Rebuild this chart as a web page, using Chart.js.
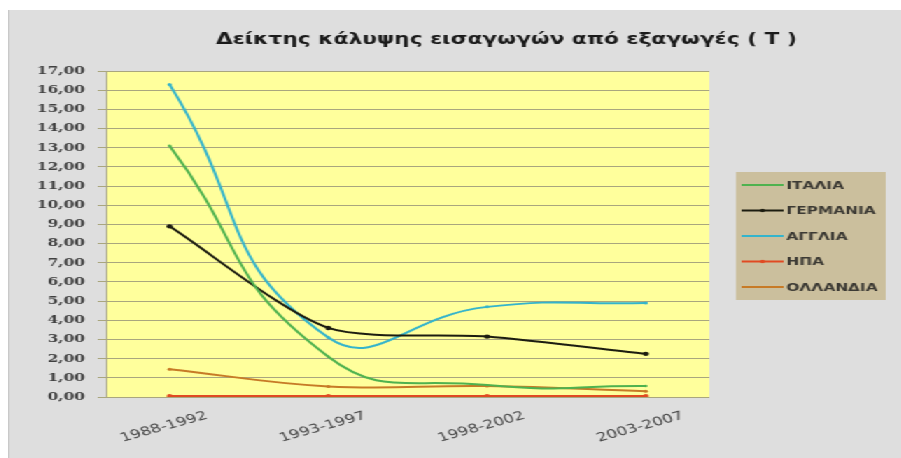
<!DOCTYPE html>
<html>
<head>
<meta charset="utf-8">
<script src="https://cdn.jsdelivr.net/npm/chart.js@4/dist/chart.umd.min.js"></script>
<style>
html, body { margin: 0; padding: 0; background: #fff; width: 901px; height: 458px; overflow: hidden; }
#wrap { position: absolute; left: 8px; top: 10px; width: 638px; height: 448px; background: #dedede;
        transform: scaleX(1.4); transform-origin: 0 0; box-shadow: inset 1px 0 0 #c9c9c9; }
</style>
</head>
<body>
<div id="wrap"><canvas id="chart" width="638" height="448"></canvas></div>
<script>
// Δεδομένα του γραφήματος
const TITLE = 'Δείκτης κάλυψης εισαγωγών από εξαγωγές ( Τ )';
const periods = ['1988-1992', '1993-1997', '1998-2002', '2003-2007'];
const italia   = [13.1, 2.1, 0.62, 0.57];
const germania = [8.9, 3.6, 3.15, 2.25];
const anglia   = [16.3, 3.1, 4.7, 4.9];
const hpa      = [0.05, 0.05, 0.05, 0.05];
const ollandia = [1.45, 0.55, 0.57, 0.3];
const yTicks = [0, 1, 2, 3, 4, 5, 6, 7, 8, 9, 10, 11, 12, 13, 14, 15, 16, 17];

const GRID = '#a9a67e';

function toPoints(values) {
    return values.map((v, i) => ({ x: i, y: v }));
}

function makeSet(label, values, color, radius, tension) {
    return {
        label: label,
        data: toPoints(values),
        borderColor: color,
        backgroundColor: color,
        borderWidth: 2,
        pointRadius: radius,
        pointBorderWidth: 0,
        tension: tension
    };
}

// Φόντο της περιοχής σχεδίασης, τίτλος, ετικέτες x και υπόμνημα
const decorations = {
    id: 'decorations',
    beforeDraw(chart) {
        const a = chart.chartArea;
        const ctx = chart.ctx;
        ctx.save();
        ctx.fillStyle = '#ffff9c';
        ctx.fillRect(a.left, a.top, a.right - a.left, a.bottom - a.top);
        ctx.restore();
    },
    afterDraw(chart) {
        const ctx = chart.ctx;
        const a = chart.chartArea;
        const xScale = chart.scales.x;

        ctx.save();
        // τίτλος
        ctx.fillStyle = '#1a1a1a';
        ctx.font = 'bold 15.5px "DejaVu Sans"';
        ctx.textAlign = 'center';
        ctx.textBaseline = 'middle';
        ctx.fillText(TITLE, 356, 30);

        // ετικέτες περιόδων
        ctx.font = '12px "DejaVu Sans"';
        ctx.fillStyle = '#474747';
        periods.forEach((p, i) => {
            const px = xScale.getPixelForValue(i);
            ctx.save();
            ctx.translate(px - 4, a.bottom + 30);
            ctx.rotate(-21 * Math.PI / 180);
            ctx.fillText(p, 0, 0);
            ctx.restore();
        });

        // υπόμνημα
        ctx.fillStyle = '#cbbf9d';
        ctx.fillRect(520, 162, 107, 128);
        ctx.font = 'bold 11px "DejaVu Sans"';
        ctx.textAlign = 'left';
        chart.data.datasets.forEach((ds, i) => {
            const y = 175 + i * 25.5;
            ctx.strokeStyle = ds.borderColor;
            ctx.lineWidth = 2;
            ctx.beginPath();
            ctx.moveTo(524, y);
            ctx.lineTo(554, y);
            ctx.stroke();
            if (ds.pointRadius > 1.5) {
                ctx.fillStyle = ds.borderColor;
                ctx.beginPath();
                ctx.arc(539, y, 1.8, 0, Math.PI * 2);
                ctx.fill();
            }
            ctx.fillStyle = '#3c3a34';
            ctx.fillText(ds.label, 556, y + 1);
        });
        ctx.restore();
    }
};

const chart = new Chart(document.getElementById('chart').getContext('2d'), {
    type: 'line',
    data: {
        datasets: [
            makeSet('ΙΤΑΛΙΑ', italia, '#4fb24f', 1.2, 0.5),
            makeSet('ΓΕΡΜΑΝΙΑ', germania, '#1c1c10', 2.2, 0.25),
            makeSet('ΑΓΓΛΙΑ', anglia, '#34b4cc', 1.5, 0.5),
            makeSet('ΗΠΑ', hpa, '#e04a22', 2, 0.5),
            makeSet('ΟΛΛΑΝΔΙΑ', ollandia, '#c77a26', 1.5, 0.4)
        ]
    },
    options: {
        responsive: false,
        animation: false,
        layout: { padding: { top: 61, right: 137, bottom: 0, left: 0 } },
        plugins: {
            legend: { display: false },
            title: { display: false },
            tooltip: { enabled: false }
        },
        scales: {
            x: {
                type: 'linear',
                min: -0.4,
                max: 3.4,
                afterBuildTicks: s => { s.ticks = periods.map((p, i) => ({ value: i })); },
                afterFit: s => { s.height = 61; },
                ticks: { display: false },
                grid: { display: false },
                border: { display: false }
            },
            y: {
                min: 0,
                max: 17,
                afterBuildTicks: s => { s.ticks = yTicks.map(v => ({ value: v })); },
                afterFit: s => { s.width = 70; },
                ticks: {
                    callback: v => v.toFixed(2).replace('.', ','),
                    font: { family: '"DejaVu Serif"', weight: 'bold', size: 11 },
                    color: '#404040',
                    padding: 9
                },
                grid: { color: GRID, tickLength: 6, lineWidth: 1 },
                border: { color: GRID }
            }
        }
    },
    plugins: [decorations]
});
</script>
</body>
</html>
